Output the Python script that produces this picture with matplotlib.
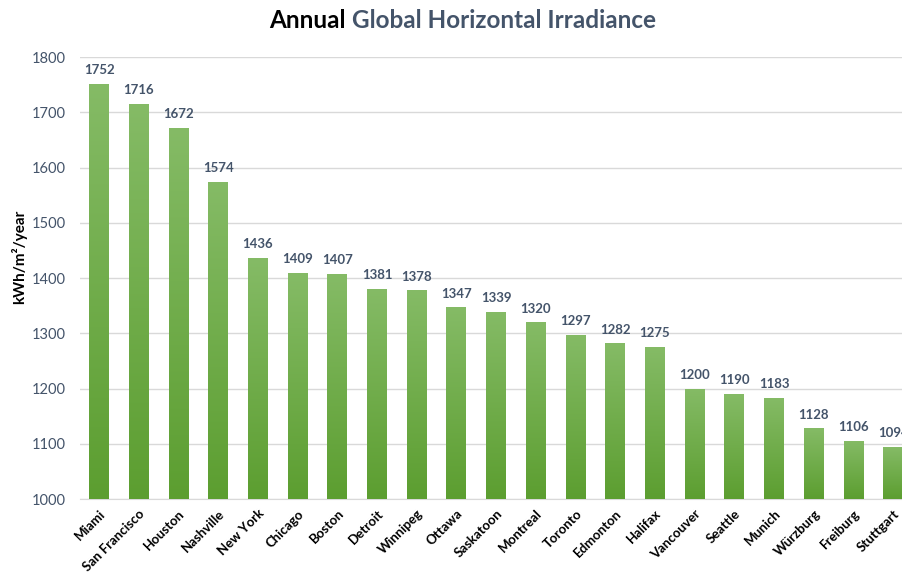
import numpy as np
import matplotlib.pyplot as plt
from matplotlib.colors import LinearSegmentedColormap

cities = ['Miami', 'San Francisco', 'Houston', 'Nashville', 'New York', 'Chicago',
          'Boston', 'Detroit', 'Winnipeg', 'Ottawa', 'Saskatoon', 'Montreal',
          'Toronto', 'Edmonton', 'Halifax', 'Vancouver', 'Seattle', 'Munich',
          'Würzburg', 'Freiburg', 'Stuttgart']
ghi = [1752, 1716, 1672, 1574, 1436, 1409, 1407, 1381, 1378, 1347, 1339, 1320,
       1297, 1282, 1275, 1200, 1190, 1183, 1128, 1106, 1094]
yticks = [1000, 1100, 1200, 1300, 1400, 1500, 1600, 1700, 1800]
base = 1000

plt.rcParams['font.family'] = ['Lato', 'DejaVu Sans']

fig = plt.figure(figsize=(9.02, 5.75), dpi=100)
ax = fig.add_axes([0.0887, 0.132, 0.9235, 0.7687])

x = np.arange(len(cities))
heights = np.array(ghi) - base
bars = ax.bar(x, heights, bottom=base, width=0.5, color='#70AD47', zorder=2)

# vertical gradient inside each bar, light on top, darker at the base
cmap = LinearSegmentedColormap.from_list('g', ['#5C9E30', '#85BB66'])
grad = np.linspace(0, 1, 256).reshape(-1, 1)
for b in bars:
    x0, y0 = b.get_x(), b.get_y()
    w, h = b.get_width(), b.get_height()
    im = ax.imshow(grad, cmap=cmap, origin='lower', aspect='auto',
                   extent=[x0, x0 + w, y0, y0 + h], zorder=3)
    im.set_clip_path(b)

for xi, v in zip(x, ghi):
    ax.text(xi, v + 14, str(v), ha='center', va='bottom', fontsize=9.5,
            fontweight='bold', color='#44546A', zorder=4)

ax.set_xlim(-0.48, 20.5)
ax.set_ylim(1000, 1800)
ax.set_yticks(yticks)
ax.set_xticks(x)
ax.set_xticklabels(cities, rotation=45, ha='right', rotation_mode='anchor',
                   fontsize=9.5, fontweight='bold', color='black')
ax.tick_params(axis='y', labelsize=10.5, colors='#44546A', length=0, pad=10)
ax.tick_params(axis='x', length=0, pad=6)
ax.grid(axis='y', color='#D9D9D9', linewidth=1, zorder=0)
for s in ['top', 'right', 'left']:
    ax.spines[s].set_visible(False)
ax.spines['bottom'].set_color('#D9D9D9')

fig.text(0.021, 0.553, 'kWh/m²/year', rotation=90, ha='center', va='center',
         fontsize=11, fontweight='bold', color='black')

fig.text(0.39, 0.965, 'Annual ', ha='right', va='center', fontsize=17.5,
         fontweight='bold', color='black')
fig.text(0.39, 0.965, 'Global Horizontal Irradiance', ha='left', va='center',
         fontsize=17.5, fontweight='bold', color='#44546A')

fig.savefig('out.png', dpi=100)
